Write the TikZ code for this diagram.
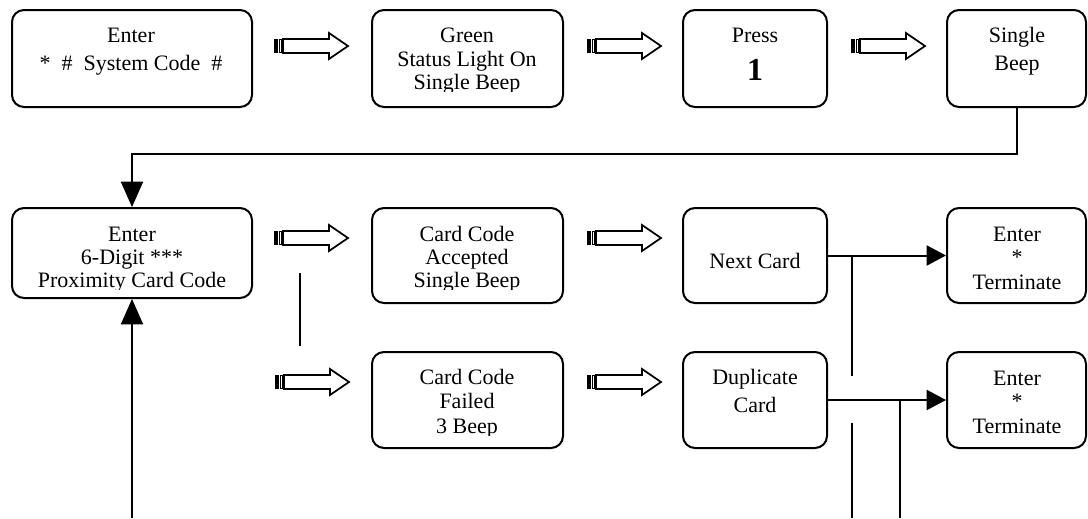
\documentclass[tikz,border=0pt]{standalone}
\usepackage{fontspec}
\setmainfont{Liberation Serif}
\usetikzlibrary{arrows.meta,fit}
\tikzset{
  box/.style={draw,line width=1.5pt,rounded corners=9pt,inner sep=0pt},
  txt/.style={inner sep=0pt,anchor=base,font=\fontsize{16.5}{19}\selectfont},
  conn/.style={line width=1.5pt},
  vtip/.style={-{Triangle[width=16.5pt,length=19pt]}},
  htip/.style={-{Triangle[width=15pt,length=14.5pt]}},
  barrow/.style={line width=1.3pt,fill=white,line join=miter},
}
\newcommand\blockarrow[2]{%
  \fill (#1,#2-7) rectangle (#1+4,#2+7);
  \draw[line width=0.9pt] (#1+5.6,#2-6.6) rectangle (#1+7.6,#2+6.6);
  \draw[barrow] (#1+9,#2-7) -- (#1+55,#2-7) -- (#1+55,#2-13) -- (#1+74,#2)
     -- (#1+55,#2+13) -- (#1+55,#2+7) -- (#1+9,#2+7) -- cycle;}
\newcommand\flowbox[5]{%
  \coordinate (#1nw) at (#2,#3);
  \coordinate (#1se) at (#4,#5);
  \node[box,fit={(#1nw) (#1se)}] (#1) {};}
\begin{document}
\begin{tikzpicture}[x=0.75pt,y=-0.75pt]
\useasboundingbox[fill=white] (0,0) rectangle (1088,518);

% boxes
\flowbox{b1}{12}{10}{252}{107}
\flowbox{b2}{372}{10}{563}{107}
\flowbox{b3}{683}{10}{827}{107}
\flowbox{b4}{947}{10}{1086}{107}
\flowbox{b5}{12}{208}{252}{298}
\flowbox{b6}{372}{208}{563}{303}
\flowbox{b7}{683}{208}{827}{303}
\flowbox{b8}{947}{208}{1086}{303}
\flowbox{b9}{372}{352}{563}{448}
\flowbox{b10}{683}{352}{827}{448}
\flowbox{b11}{947}{352}{1086}{448}

% texts
\node[txt] (t1a) at (131,42) {Enter};
\node[txt] (t1b) at (131,70) {*~~\#~~System Code~~\#};
\begin{scope}
\clip (372,10) rectangle (563,91);
\node[txt] (t2a) at (467,42) {Green};
\node[txt] (t2b) at (467,66) {Status Light On};
\node[txt] (t2c) at (467,89) {Single Beep};
\end{scope}
\node[txt] (t3a) at (755,42) {Press};
\node[txt,font=\fontsize{24}{26}\selectfont\bfseries] (t3b) at (755,80) {1};
\node[txt] (t4a) at (1017,42) {Single};
\node[txt] (t4b) at (1017,70) {Beep};
\begin{scope}
\clip (12,208) rectangle (252,289.5);
\node[txt] (t5a) at (132,241) {Enter};
\node[txt] (t5b) at (132,264) {6-Digit ***};
\node[txt] (t5c) at (132,287) {Proximity Card Code};
\end{scope}
\begin{scope}
\clip (372,208) rectangle (563,289.5);
\node[txt] (t6a) at (467,241) {Card Code};
\node[txt] (t6b) at (467,264) {Accepted};
\node[txt] (t6c) at (467,287) {Single Beep};
\end{scope}
\node[txt] (t7a) at (755,268) {Next Card};
\node[txt] (t8a) at (1017,241) {Enter};
\node[txt] (t8b) at (1017,264) {*};
\node[txt] (t8c) at (1017,289) {Terminate};
\begin{scope}
\clip (372,352) rectangle (563,435);
\node[txt] (t9a) at (467,384) {Card Code};
\node[txt] (t9b) at (467,408) {Failed};
\node[txt] (t9c) at (467,433) {3 Beep};
\end{scope}
\node[txt] (t10a) at (755,384) {Duplicate};
\node[txt] (t10b) at (755,412) {Card};
\node[txt] (t11a) at (1017,385) {Enter};
\node[txt] (t11b) at (1017,408) {*};
\node[txt] (t11c) at (1017,433) {Terminate};

% block arrows
\blockarrow{274}{46}
\blockarrow{587}{46}
\blockarrow{851}{46}
\blockarrow{274}{238}
\blockarrow{587}{238}
\blockarrow{275}{382}
\blockarrow{587}{382}

% connectors
\coordinate (k1) at (132,154);
\draw[conn,vtip] (b4.south) |- (k1) -- (b5.north);
\coordinate (k2) at (132,518);
\draw[conn,vtip] (k2) -- (b5.south);
\coordinate (v1a) at (300,273);
\coordinate (v1b) at (300,346);
\draw[conn] (v1a) -- (v1b);
\draw[conn,htip] (b7.east) -- (b8.west);
\coordinate (j1) at (852,376);
\draw[conn] (j1 |- b7.east) -- (j1);
\draw[conn,htip] (b10.east) -- (b11.west);
\coordinate (j2) at (900,518);
\draw[conn] (j2 |- b10.east) -- (j2);
\coordinate (j3a) at (852,423);
\coordinate (j3b) at (852,518);
\draw[conn] (j3a) -- (j3b);
\end{tikzpicture}
\end{document}
